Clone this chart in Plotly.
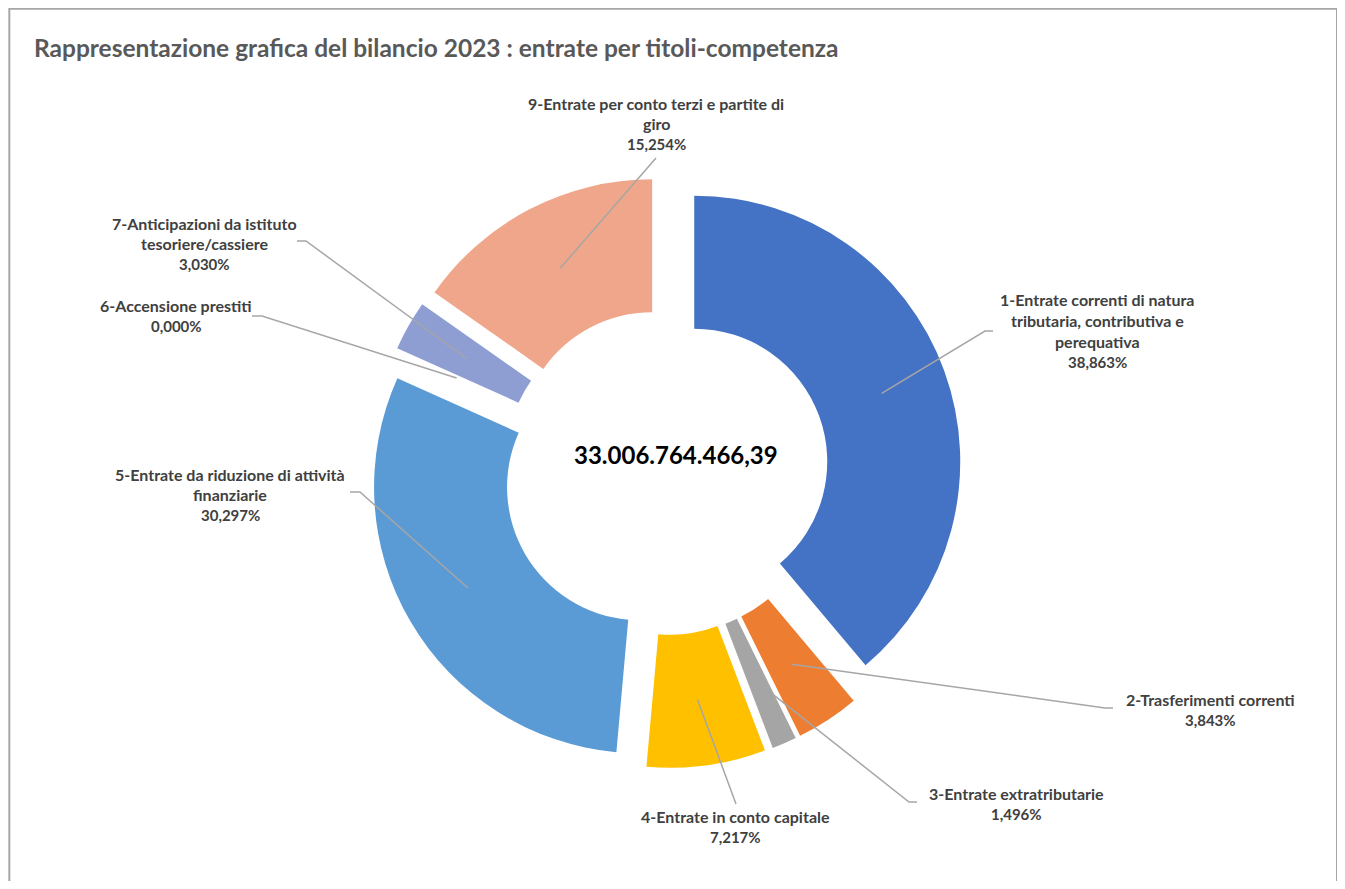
import math
import plotly.graph_objects as go

# ---------------- data ----------------
categories = [
    "1-Entrate correnti di natura tributaria, contributiva e perequativa",
    "2-Trasferimenti correnti",
    "3-Entrate extratributarie",
    "4-Entrate in conto capitale",
    "5-Entrate da riduzione di attività finanziarie",
    "6-Accensione prestiti",
    "7-Anticipazioni da istituto tesoriere/cassiere",
    "9-Entrate per conto terzi e partite di giro",
]
# how each category label is wrapped in the picture
label_wraps = [
    ["1-Entrate correnti di natura", "tributaria, contributiva e", "perequativa"],
    ["2-Trasferimenti correnti"],
    ["3-Entrate extratributarie"],
    ["4-Entrate in conto capitale"],
    ["5-Entrate da riduzione di attività", "finanziarie"],
    ["6-Accensione prestiti"],
    ["7-Anticipazioni da istituto", "tesoriere/cassiere"],
    ["9-Entrate per conto terzi e partite di", "giro"],
]
values = [38.863, 3.843, 1.496, 7.217, 30.297, 0.000, 3.030, 15.254]
colors = ["#4472C4", "#ED7D31", "#A5A5A5", "#FFC000",
          "#5B9BD5", "#70AD47", "#8E9ED3", "#F0A68A"]
total_text = "33.006.764.466,39"
title_text = "Rappresentazione grafica del bilancio 2023 : entrate per titoli-competenza"

# ---------------- layout constants ----------------
PAGE_W, PAGE_H = 1345, 889
OFF = 8                              # page body margin (px)
W, H = PAGE_W - 2 * OFF, PAGE_H - 2 * OFF
CX, CY = 666, 472       # pie centre (page px)
R = 266                 # outer radius (px)
PULL = 0.113
HOLE = 0.5
LINE_GAP = 20.7

# label placement: centre x, first-line y, leader start points (page px)
label_pos = [
    dict(x=1097, y=300, lead=[(993, 331), (985, 331)]),
    dict(x=1210, y=699, lead=[(1113, 708), (1105, 708)]),
    dict(x=1016, y=793, lead=[(917, 802), (909, 802)]),
    dict(x=736, y=816, lead=[(736, 804)]),
    dict(x=230, y=474, lead=[(350, 492), (360, 492)]),
    dict(x=176, y=305, lead=[(252, 316), (262, 316)]),
    dict(x=204, y=223, lead=[(297, 241), (306, 241)]),
    dict(x=656, y=103, lead=[(656, 158)]),
]


def px(x):
    return (x - OFF) / W


def py(y):
    return 1 - (y - OFF) / H


half = R * (1 + PULL)
fig = go.Figure(go.Pie(
    labels=categories,
    values=values,
    sort=False,
    direction="clockwise",
    rotation=0,
    hole=HOLE,
    pull=[PULL] * len(values),
    marker=dict(colors=colors, line=dict(width=0)),
    textinfo="none",
    hoverinfo="label+percent",
    showlegend=False,
    domain=dict(x=[px(CX - half), px(CX + half)],
                y=[py(CY + half), py(CY - half)]),
))

annotations = []
shapes = []

total = sum(values)
cum = 0.0
r_mid = R * (1 + HOLE) / 2 + R * PULL
for i, v in enumerate(values):
    theta = 2 * math.pi * (cum + v / 2) / total
    cum += v
    ex = CX + r_mid * math.sin(theta)
    ey = CY - r_mid * math.cos(theta)
    pos = label_pos[i]
    pts = pos["lead"] + [(ex, ey)]
    path = "M " + " L ".join(f"{px(a):.5f},{py(b):.5f}" for a, b in pts)
    shapes.append(dict(type="path", xref="paper", yref="paper", path=path,
                       line=dict(color="#A6A6A6", width=1.5), layer="above"))
    pct = f"{v:.3f}".replace(".", ",") + "%"
    lines = label_wraps[i] + [pct]
    for j, t in enumerate(lines):
        is_pct = (j == len(lines) - 1)
        annotations.append(dict(
            x=px(pos["x"]), y=py(pos["y"] + j * LINE_GAP),
            xref="paper", yref="paper", xanchor="center", yanchor="middle",
            text=f"<b>{t}</b>", showarrow=False,
            font=dict(family="Lato", size=15 if is_pct else 16,
                      color="#404040")))

annotations.append(dict(
    x=px(676), y=py(455), xref="paper", yref="paper",
    xanchor="center", yanchor="middle", showarrow=False,
    text=f"<b>{total_text}</b>",
    font=dict(family="Lato", size=24, color="#000000")))

annotations.append(dict(
    x=px(32), y=py(48), xref="paper", yref="paper",
    xanchor="left", yanchor="middle", showarrow=False,
    text=f"<b>{title_text}</b>",
    font=dict(family="Lato", size=24.5, color="#595959")))

shapes.append(dict(type="rect", xref="paper", yref="paper",
                   x0=0.001, x1=px(1337), y0=-0.05, y1=0.999,
                   line=dict(color="#A6A6A6", width=2), layer="below"))

fig.update_layout(
    width=W, height=H,
    margin=dict(l=0, r=0, t=0, b=0),
    paper_bgcolor="white",
    plot_bgcolor="white",
    annotations=annotations,
    shapes=shapes,
)

fig.write_html("out.html")
